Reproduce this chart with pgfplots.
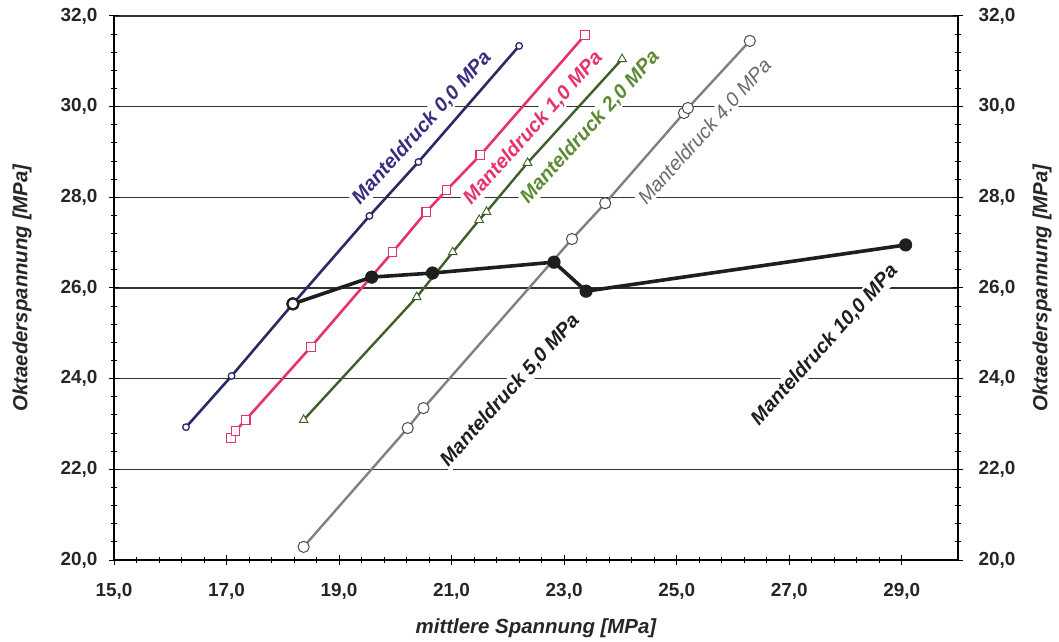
\documentclass[border=0pt]{standalone}
\usepackage{pgfplots}
\pgfplotsset{compat=1.18}
\usepackage{fontspec}
\setmainfont{Liberation Sans}
\definecolor{navyc}{HTML}{2A2A66}
\definecolor{navyl}{HTML}{3B2D80}
\definecolor{pinkc}{HTML}{E6336C}
\definecolor{greenc}{HTML}{3F5F2A}
\definecolor{greenl}{HTML}{5E8A33}
\definecolor{grayc}{HTML}{808080}
\definecolor{grayl}{HTML}{6A6A6A}
\definecolor{blackc}{HTML}{1E1E1E}
\pgfkeys{/pgf/number format/.cd, fixed, fixed zerofill, precision=1, use comma, assume math mode=true}
\pgfplotsset{
  common/.style={
    set layers,
    scale only axis, width=844bp, height=544bp,
    xmin=15, xmax=30, ymin=20, ymax=32,
    xtick={15,17,...,29}, ytick={20,22,...,32},
    minor x tick num=4, minor y tick num=4,
    tick align=center, major tick length=10bp, minor tick length=6bp,
    every tick/.style={black, line width=1bp},
    axis line style={line width=1.6bp, black},
    tick label style={font=\fontsize{19}{22}\selectfont\bfseries, text=black!85},
    label style={font=\fontsize{20.5}{24}\selectfont\bfseries\itshape, text=black!85},
  }
}
\tikzset{lab/.style={rotate=48, fill=white, inner sep=1.5bp, font=\fontsize{20}{24}\selectfont\bfseries\itshape}}
\begin{document}
\begin{tikzpicture}
\begin{axis}[common,
  axis x line*=bottom, axis y line*=left,
  ymajorgrids, major grid style={line width=1.1bp, color=black!80},
  xticklabel style={yshift=-15bp},
  yticklabel style={xshift=-8bp},
  xlabel={mittlere Spannung [MPa]},
  ylabel={Oktaederspannung [MPa]},
  xlabel style={at={(axis description cs:0.5,0)}, anchor=center, yshift=-68bp},
  ylabel style={at={(axis description cs:0,0.5)}, anchor=center, yshift=92bp},
]
\node[lab, text=navyl] at (axis cs:20.47,29.53) {Manteldruck 0,0 MPa};
\node[lab, text=pinkc] at (axis cs:22.45,29.53) {Manteldruck 1,0 MPa};
\node[lab, text=greenl] at (axis cs:23.46,29.55) {Manteldruck 2,0 MPa};
\node[lab, text=grayl, font=\fontsize{20}{24}\selectfont\itshape] at (axis cs:25.49,29.46) {Manteldruck 4.0 MPa};
\node[lab, text=blackc] at (axis cs:22.04,23.74) {Manteldruck 5,0 MPa};
\node[lab, text=blackc] at (axis cs:27.63,24.74) {Manteldruck 10,0 MPa};

% Manteldruck 0,0
\addplot[navyc, line width=2.6bp, mark=*, mark size=3.3bp, mark options={fill=white, line width=1.3bp}] coordinates {
(16.28,22.93) (17.09,24.06) (18.18,25.65) (19.54,27.59) (20.41,28.78) (22.20,31.34)};
% Manteldruck 1,0
\addplot[pinkc, line width=2.6bp, mark=square*, mark size=4.3bp, mark options={fill=white, line width=1.1bp}] coordinates {
(17.08,22.69) (17.16,22.85) (17.34,23.09) (18.50,24.70) (19.95,26.79) (20.55,27.68) (20.91,28.16) (21.51,28.93) (23.37,31.58)};
% Manteldruck 2,0
\addplot[greenc, line width=2.4bp, mark=triangle*, mark size=5bp, mark options={fill=white, line width=0.9bp}] coordinates {
(18.37,23.09) (20.38,25.80) (21.02,26.79) (21.49,27.50) (21.62,27.68) (22.35,28.76) (24.03,31.05)};
% Manteldruck 4,0
\addplot[grayc, line width=2.4bp, mark=*, mark size=5.6bp, mark options={fill=white, draw=black!70, line width=1bp}] coordinates {
(18.37,20.29) (20.22,22.91) (20.50,23.35) (23.14,27.08) (23.73,27.87) (25.13,29.86) (25.20,29.97) (26.30,31.45)};
% Manteldruck 5,0 / 10,0
\addplot[blackc, line width=3.6bp, mark=*, mark size=6.3bp, mark options={fill=blackc, line width=0.5bp}] coordinates {
(18.18,25.65) (19.58,26.24) (20.66,26.33) (22.82,26.57) (23.39,25.93) (29.07,26.95)};
\addplot[blackc, only marks, mark=*, mark size=5.5bp, mark options={fill=white, line width=2bp}] coordinates {(18.18,25.65)};
\end{axis}
\begin{axis}[common,
  axis x line=none, axis y line*=right,
  yticklabel style={xshift=12bp},
  ylabel={Oktaederspannung [MPa]},
  ylabel style={at={(axis description cs:1,0.5)}, anchor=center, yshift=-84bp},
]
\end{axis}
\path ([xshift=-114bp,yshift=-82bp]current axis.south west) rectangle ([xshift=101bp,yshift=16bp]current axis.north east);
\end{tikzpicture}
\end{document}
